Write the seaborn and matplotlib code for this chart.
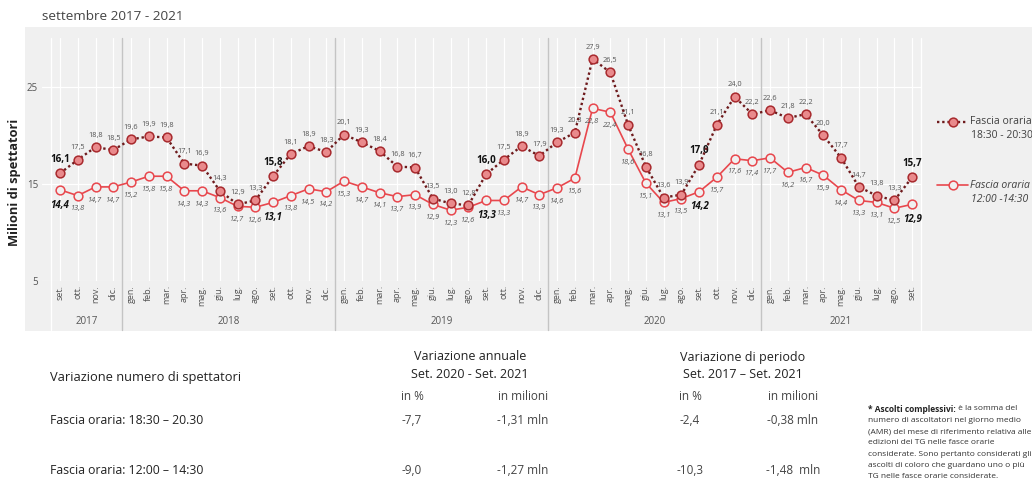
import numpy as np
import pandas as pd
import matplotlib
matplotlib.use("Agg")
import matplotlib.pyplot as plt
import matplotlib.transforms as mtransforms
from matplotlib.patches import Rectangle
from matplotlib.lines import Line2D
import seaborn as sns

# ---- data -------------------------------------------------------------
month_labels = (
    ["set.", "ott.", "nov.", "dic."]
    + ["gen.", "feb.", "mar.", "apr.", "mag.", "giu.", "lug.", "ago.", "set.", "ott.", "nov.", "dic."] * 3
    + ["gen.", "feb.", "mar.", "apr.", "mag.", "giu.", "lug.", "ago.", "set."]
)
years = ["2017", "2018", "2019", "2020", "2021"]
year_spans = [(0, 3), (4, 15), (16, 27), (28, 39), (40, 48)]

serale = [
    16.1, 17.5, 18.8, 18.5,
    19.6, 19.9, 19.8, 17.1, 16.9, 14.3, 12.9, 13.3, 15.8, 18.1, 18.9, 18.3,
    20.1, 19.3, 18.4, 16.8, 16.7, 13.5, 13.0, 12.8, 16.0, 17.5, 18.9, 17.9,
    19.3, 20.3, 27.9, 26.5, 21.1, 16.8, 13.6, 13.9, 17.0, 21.1, 24.0, 22.2,
    22.6, 21.8, 22.2, 20.0, 17.7, 14.7, 13.8, 13.3, 15.7,
]
diurno = [
    14.4, 13.8, 14.7, 14.7,
    15.2, 15.8, 15.8, 14.3, 14.3, 13.6, 12.7, 12.6, 13.1, 13.8, 14.5, 14.2,
    15.3, 14.7, 14.1, 13.7, 13.9, 12.9, 12.3, 12.6, 13.3, 13.3, 14.7, 13.9,
    14.6, 15.6, 22.8, 22.4, 18.6, 15.1, 13.1, 13.5, 14.2, 15.7, 17.6, 17.4,
    17.7, 16.2, 16.7, 15.9, 14.4, 13.3, 13.1, 12.5, 12.9,
]
series_names = ["Fascia oraria\n18:30 - 20:30", "Fascia oraria\n12:00 -14:30"]
september_idx = [0, 12, 24, 36, 48]

table_header = "Variazione numero di spettatori"
table_rows = ["Fascia oraria: 18:30 \u2013 20.30", "Fascia oraria: 12:00 \u2013 14:30"]
col_groups = ["Variazione annuale\nSet. 2020 - Set. 2021", "Variazione di periodo\nSet. 2017 \u2013 Set. 2021"]
col_units = ["in %", "in milioni", "in %", "in milioni"]
table_values = [
    ["-7,7", "-1,31 mln", "-2,4", "-0,38 mln"],
    ["-9,0", "-1,27 mln", "-10,3", "-1,48  mln"],
]
note_bold = "* Ascolti complessivi:"
note_text = (
    " è la somma del\n"
    "numero di ascoltatori nel giorno medio\n"
    "(AMR) del mese di riferimento relativa alle\n"
    "edizioni dei TG nelle fasce orarie\n"
    "considerate. Sono pertanto considerati gli\n"
    "ascolti di coloro che guardano uno o più\n"
    "TG nelle fasce orarie considerate."
)

df = pd.DataFrame({"idx": np.arange(len(month_labels)), "serale": serale, "diurno": diurno})

# ---- style --------------------------------------------------------------
sns.set_theme(style="white")
plt.rcParams["font.family"] = ["Open Sans", "DejaVu Sans"]

W, H = 1032, 480
fig = plt.figure(figsize=(W / 100, H / 100), dpi=100)
fig.patch.set_facecolor("white")


def fx(px):
    return px / W


def fy(py):
    return 1 - py / H


panel = "#F0F0F0"
fig.add_artist(Rectangle((fx(25), fy(331)), fx(1032) - fx(25), fy(27) - fy(331),
                         transform=fig.transFigure, facecolor=panel, edgecolor="none", zorder=0))

ax_left, ax_right, ax_top, ax_bottom = 42.25, 921, 38, 281
ax = fig.add_axes([fx(ax_left), fy(ax_bottom), fx(ax_right) - fx(ax_left), fy(ax_top) - fy(ax_bottom)])
ax.set_facecolor(panel)
for s in ax.spines.values():
    s.set_visible(False)

dark_red = "#6E1A1C"
mid_red = "#A82A2E"
light_red = "#E98A8C"
red = "#E8474D"

sns.lineplot(data=df, x="idx", y="serale", ax=ax, color=dark_red, linestyle=(0, (1, 1.2)),
             linewidth=1.7, marker="o", markersize=6.3, markerfacecolor=light_red,
             markeredgecolor=mid_red, markeredgewidth=1.1, zorder=4)
sns.lineplot(data=df, x="idx", y="diurno", ax=ax, color=red, linewidth=1.2,
             marker="o", markersize=6.3, markerfacecolor=panel,
             markeredgecolor=red, markeredgewidth=1.1, zorder=3)

ax.set_xlim(-1, 48.5)
ax.set_ylim(5, 30.05)
ax.set_xlabel("")
ax.set_ylabel("")

ax.set_xticks(df["idx"])
ax.set_xticklabels(month_labels, rotation=90, fontsize=6.5, color="#555555")
ax.set_yticks([5, 15, 25])
ax.set_yticklabels(["5", "15", "25"], fontsize=7, color="#555555")
ax.tick_params(axis="both", length=0, pad=3)
ax.grid(True, color="white", linewidth=0.9)
ax.set_axisbelow(True)

# year separators and year labels below the month ticks
trans = mtransforms.blended_transform_factory(ax.transData, ax.transAxes)
y_low = (ax_bottom - 330) / (ax_bottom - ax_top)
for xs in [3.5, 15.5, 27.5, 39.5]:
    ax.plot([xs, xs], [y_low, 1], transform=trans, color="#C4C4C4", lw=1.0, clip_on=False, zorder=1)
for xs in [-0.5, 48.5]:
    ax.plot([xs, xs], [y_low, 1], transform=trans, color="white", lw=1.0, clip_on=False, zorder=1)
y_year = (ax_bottom - 322) / (ax_bottom - ax_top)
for name, (a, b) in zip(years, year_spans):
    ax.text((a + b) / 2, y_year, name, transform=trans, ha="center", va="center",
            fontsize=7, color="#555555")

# value labels
for i, (e, d) in enumerate(zip(serale, diurno)):
    te = f"{e:.1f}".replace(".", ",")
    td = f"{d:.1f}".replace(".", ",")
    if i in september_idx:
        ax.annotate(te, (i, e), xytext=(0, 6), textcoords="offset points", ha="center",
                    va="bottom", fontsize=7, fontweight="bold", color="#111111")
        ax.annotate(td, (i, d), xytext=(0, -7), textcoords="offset points", ha="center",
                    va="top", fontsize=7, fontweight="bold", style="italic", color="#111111")
    else:
        ax.annotate(te, (i, e), xytext=(0, 6), textcoords="offset points", ha="center",
                    va="bottom", fontsize=5.3, color="#555555")
        ax.annotate(td, (i, d), xytext=(0, -7), textcoords="offset points", ha="center",
                    va="top", fontsize=5.3, style="italic", color="#555555")

# title and axis label
fig.text(fx(42), fy(17), "settembre 2017 - 2021", fontsize=9.7, color="#444444",
         ha="left", va="center")
fig.text(fx(15), fy(182), "Milioni di spettatori", rotation=90, fontsize=9.3,
         fontweight="bold", color="#222222", ha="center", va="center")

# legend on the right side of the panel
leg_items = [
    dict(y=122, ls=(0, (1, 1.2)), lc=dark_red, lw=1.7, mfc=light_red, mec=mid_red, style="normal"),
    dict(y=185, ls="-", lc=red, lw=1.2, mfc=panel, mec=red, style="italic"),
]
for name, it in zip(series_names, leg_items):
    fig.add_artist(Line2D([fx(937), fx(968)], [fy(it["y"]), fy(it["y"])], transform=fig.transFigure,
                          color=it["lc"], linestyle=it["ls"], linewidth=it["lw"]))
    fig.add_artist(Line2D([fx(952.5)], [fy(it["y"])], transform=fig.transFigure, marker="o",
                          markersize=6.3, markerfacecolor=it["mfc"], markeredgecolor=it["mec"],
                          markeredgewidth=1.1, linestyle="none"))
    first, second = name.split("\n")
    fig.text(fx(970), fy(it["y"]), first, fontsize=7.5, color="#404040", style=it["style"],
             ha="left", va="center")
    fig.text(fx(971), fy(it["y"] + 14), second, fontsize=7.5,
             color="#404040", style=it["style"], ha="left", va="center")

# summary table below the chart
tc = "#222222"
fig.text(fx(50), fy(378), table_header, fontsize=9.3, color=tc, ha="left", va="center")
for row, yy in zip(table_rows, [421, 470]):
    fig.text(fx(50), fy(yy), row, fontsize=8.8, color=tc, ha="left", va="center")
for grp, xc in zip(col_groups, [470, 743]):
    l1, l2 = grp.split("\n")
    fig.text(fx(xc), fy(357), l1, fontsize=9, color=tc, ha="center", va="center")
    fig.text(fx(xc), fy(375), l2, fontsize=9, color=tc, ha="center", va="center")
col_x = [412, 523, 690, 793]
for u, xc in zip(col_units, col_x):
    fig.text(fx(xc), fy(397), u, fontsize=8.5, color="#444444", ha="center", va="center")
for vals, yy in zip(table_values, [421, 470]):
    for v, xc in zip(vals, col_x):
        fig.text(fx(xc), fy(yy), v, fontsize=8.5, color="#444444", ha="center", va="center")

# footnote
note_fs = 6.0
nb = fig.text(fx(868), fy(409), note_bold, fontsize=note_fs, fontweight="bold", color="#222222",
              ha="left", va="center")
fig.canvas.draw()
bb = nb.get_window_extent()
lines = note_text.split("\n")
fig.text(bb.x1 / W, fy(409), lines[0], fontsize=note_fs, color="#333333", ha="left", va="center")
for k, ln in enumerate(lines[1:], start=1):
    fig.text(fx(868), fy(409 + 11.3 * k), ln, fontsize=note_fs, color="#333333", ha="left", va="center")

fig.savefig("out.png", dpi=100, facecolor="white")
